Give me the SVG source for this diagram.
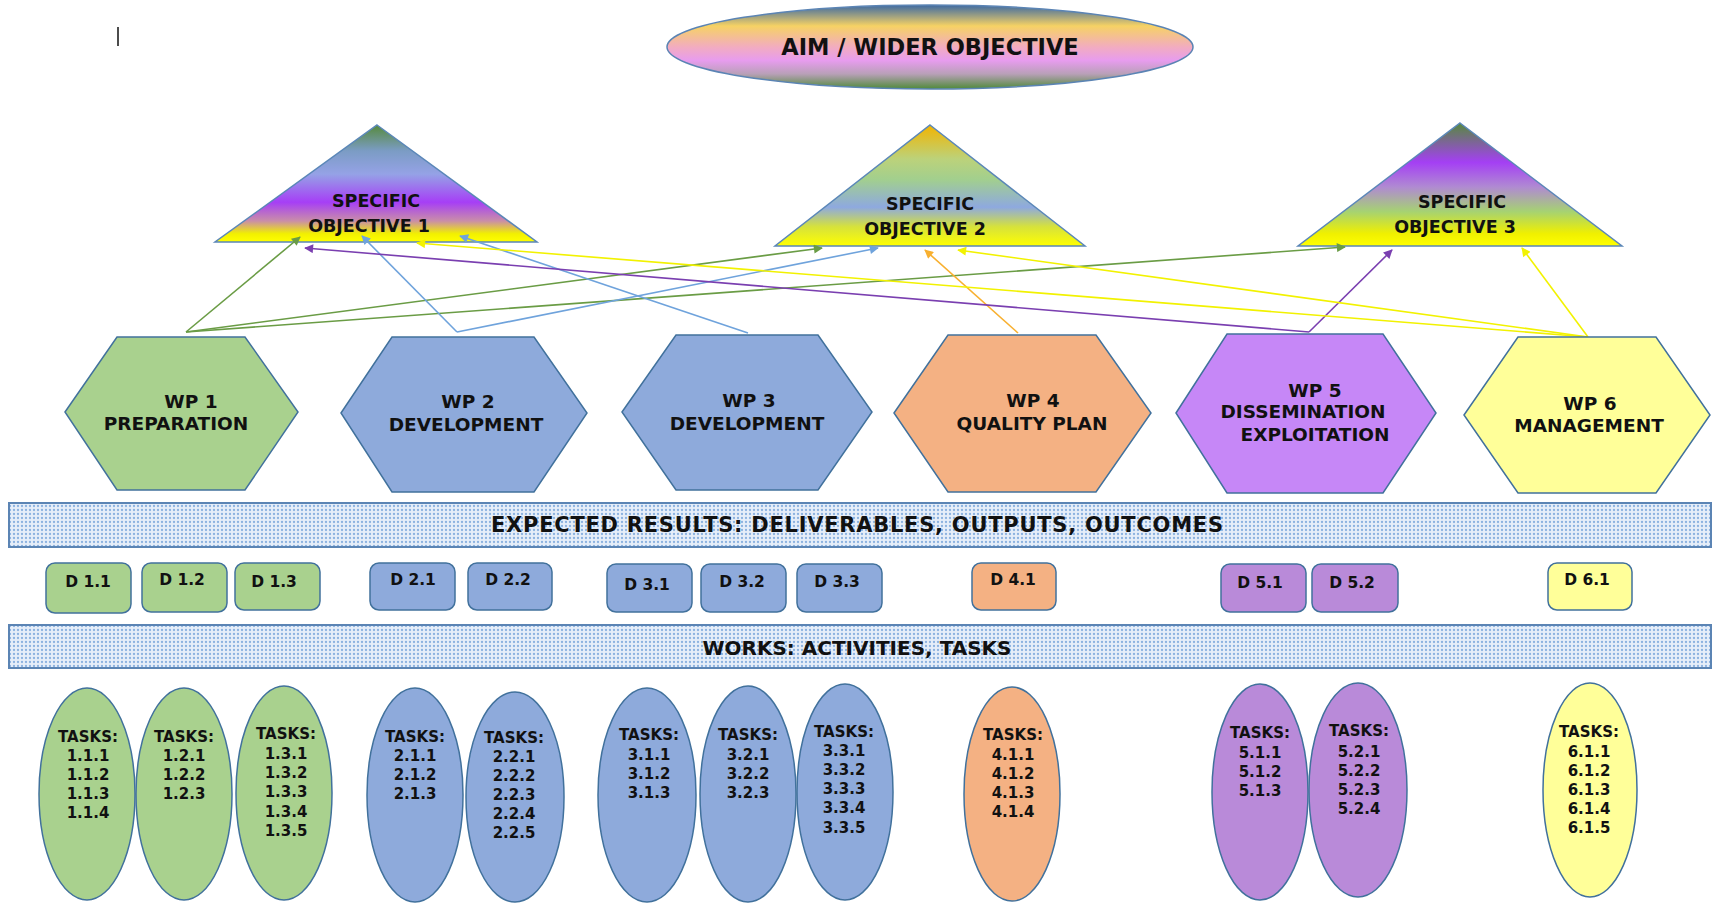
<svg xmlns="http://www.w3.org/2000/svg" width="1715" height="903" viewBox="0 0 1715 903">
<style>
  .lbl { font-family: "DejaVu Sans", "Liberation Sans", sans-serif; font-weight: bold; fill: #111; text-anchor: middle; }
  .wp { font-size: 18.5px; }
  .so { font-size: 17.5px; }
  .dl { font-size: 15.5px; }
  .tk { font-size: 15px; }
  .ban { font-size: 20px; }
  .hex { stroke: #41719c; stroke-width: 1.5; }
  .box { stroke: #41719c; stroke-width: 1.5; }
  .ell { stroke: #41719c; stroke-width: 1.5; }
  .tri { stroke: #5b87b8; stroke-width: 1.5; }
  .banner { fill: url(#dots); stroke: #5b84b4; stroke-width: 2; }
  .green { fill: #a9d18e; }
  .blue { fill: #8eaadb; }
  .orange { fill: #f4b183; }
  .purple { fill: #b98ad9; }
  .violet { fill: #c687f7; }
  .yellow { fill: #ffff99; }
  .c { fill: none; stroke-width: 1.6; }
  .cg { stroke: #6a9c45; }
  .cb { stroke: #6fa3dc; }
  .co { stroke: #f8b030; }
  .cp { stroke: #7a3fb0; }
  .cy { stroke: #f2f200; }
</style>
<defs>
  <linearGradient id="gAim" x1="0" y1="0" x2="0" y2="1">
    <stop offset="0" stop-color="#3e6aa2"/>
    <stop offset="0.25" stop-color="#f6d264"/>
    <stop offset="0.5" stop-color="#f2acc0"/>
    <stop offset="0.66" stop-color="#e79cee"/>
    <stop offset="0.82" stop-color="#b9a0b8"/>
    <stop offset="1" stop-color="#4f8a3a"/>
  </linearGradient>
  <linearGradient id="gSo1" x1="0" y1="0" x2="0" y2="1">
    <stop offset="0" stop-color="#568a3c"/>
    <stop offset="0.22" stop-color="#7b9cc4"/>
    <stop offset="0.42" stop-color="#95a2e6"/>
    <stop offset="0.66" stop-color="#a63ef6"/>
    <stop offset="0.82" stop-color="#c98ea8"/>
    <stop offset="0.93" stop-color="#f2f000"/>
    <stop offset="1" stop-color="#ffff00"/>
  </linearGradient>
  <linearGradient id="gSo2" x1="0" y1="0" x2="0" y2="1">
    <stop offset="0" stop-color="#f2b400"/>
    <stop offset="0.28" stop-color="#bcd27a"/>
    <stop offset="0.45" stop-color="#a2cf8e"/>
    <stop offset="0.68" stop-color="#8ea9df"/>
    <stop offset="0.84" stop-color="#d6e23c"/>
    <stop offset="1" stop-color="#ffff00"/>
  </linearGradient>
  <linearGradient id="gSo3" x1="0" y1="0" x2="0" y2="1">
    <stop offset="0" stop-color="#568a3c"/>
    <stop offset="0.32" stop-color="#a43ff4"/>
    <stop offset="0.52" stop-color="#b08ad2"/>
    <stop offset="0.72" stop-color="#a6d272"/>
    <stop offset="0.9" stop-color="#f0f000"/>
    <stop offset="1" stop-color="#ffff00"/>
  </linearGradient>
  <pattern id="dots" width="4" height="4" patternUnits="userSpaceOnUse">
    <rect width="4" height="4" fill="#e6eef9"/>
    <circle cx="2" cy="2" r="1.15" fill="#8cb2e0"/>
  </pattern>
  <marker id="aG" viewBox="0 0 10 10" refX="9" refY="5" markerWidth="10" markerHeight="9" markerUnits="userSpaceOnUse" orient="auto"><path d="M0,0 L10,5 L0,10 z" fill="#6a9c45"/></marker>
  <marker id="aB" viewBox="0 0 10 10" refX="9" refY="5" markerWidth="10" markerHeight="9" markerUnits="userSpaceOnUse" orient="auto"><path d="M0,0 L10,5 L0,10 z" fill="#6fa3dc"/></marker>
  <marker id="aO" viewBox="0 0 10 10" refX="9" refY="5" markerWidth="10" markerHeight="9" markerUnits="userSpaceOnUse" orient="auto"><path d="M0,0 L10,5 L0,10 z" fill="#f8b030"/></marker>
  <marker id="aP" viewBox="0 0 10 10" refX="9" refY="5" markerWidth="10" markerHeight="9" markerUnits="userSpaceOnUse" orient="auto"><path d="M0,0 L10,5 L0,10 z" fill="#7a3fb0"/></marker>
  <marker id="aY" viewBox="0 0 10 10" refX="9" refY="5" markerWidth="10" markerHeight="9" markerUnits="userSpaceOnUse" orient="auto"><path d="M0,0 L10,5 L0,10 z" fill="#f2f200"/></marker>
</defs>
<rect width="1715" height="903" fill="#ffffff"/>
<line x1="118" y1="27" x2="118" y2="46" stroke="#111" stroke-width="1.5"/>

<g id="aim">
  <ellipse cx="930" cy="47" rx="263" ry="42" fill="url(#gAim)" stroke="#5b84b4" stroke-width="1.5"/>
  <text class="lbl" x="930" y="55" font-size="22.5">AIM / WIDER OBJECTIVE</text>
</g>

<g id="so1">
  <polygon class="tri" points="377,125 537,242 215,242" fill="url(#gSo1)"/>
  <text class="lbl so" x="376" y="207">SPECIFIC</text>
  <text class="lbl so" x="369" y="232">OBJECTIVE 1</text>
</g>
<g id="so2">
  <polygon class="tri" points="930,125 1085,246 775,246" fill="url(#gSo2)"/>
  <text class="lbl so" x="930" y="210">SPECIFIC</text>
  <text class="lbl so" x="925" y="235">OBJECTIVE 2</text>
</g>
<g id="so3">
  <polygon class="tri" points="1460,123 1622,246 1298,246" fill="url(#gSo3)"/>
  <text class="lbl so" x="1462" y="208">SPECIFIC</text>
  <text class="lbl so" x="1455" y="233">OBJECTIVE 3</text>
</g>

<g id="connectors">
  <line class="c cg" x1="186" y1="332" x2="300" y2="237" marker-end="url(#aG)"/>
  <line class="c cg" x1="186" y1="332" x2="822" y2="248" marker-end="url(#aG)"/>
  <line class="c cg" x1="186" y1="332" x2="1345" y2="247" marker-end="url(#aG)"/>
  <line class="c cb" x1="457" y1="332" x2="362" y2="236" marker-end="url(#aB)"/>
  <line class="c cb" x1="457" y1="332" x2="878" y2="248" marker-end="url(#aB)"/>
  <line class="c cb" x1="748" y1="333" x2="460" y2="236" marker-end="url(#aB)"/>
  <line class="c co" x1="1018" y1="333" x2="925" y2="250" marker-end="url(#aO)"/>
  <line class="c cp" x1="1309" y1="332" x2="305" y2="248" marker-end="url(#aP)"/>
  <line class="c cp" x1="1309" y1="332" x2="1392" y2="250" marker-end="url(#aP)"/>
  <line class="c cy" x1="1588" y1="337" x2="417" y2="243" marker-end="url(#aY)"/>
  <line class="c cy" x1="1588" y1="337" x2="958" y2="250" marker-end="url(#aY)"/>
  <line class="c cy" x1="1588" y1="337" x2="1522" y2="248" marker-end="url(#aY)"/>
</g>

<g id="wp1">
  <polygon class="hex green" points="65,412 117,337 245,337 298,412 245,490 117,490"/>
  <text class="lbl wp" x="191" y="408">WP 1</text>
  <text class="lbl wp" x="176" y="430">PREPARATION</text>
</g>
<g id="wp2">
  <polygon class="hex blue" points="341,413 392,337 534,337 587,413 534,492 392,492"/>
  <text class="lbl wp" x="468" y="408">WP 2</text>
  <text class="lbl wp" x="466" y="431">DEVELOPMENT</text>
</g>
<g id="wp3">
  <polygon class="hex blue" points="622,412 676,335 818,335 872,412 818,490 676,490"/>
  <text class="lbl wp" x="749" y="407">WP 3</text>
  <text class="lbl wp" x="747" y="430">DEVELOPMENT</text>
</g>
<g id="wp4">
  <polygon class="hex orange" points="894,413 948,335 1096,335 1151,413 1096,492 948,492"/>
  <text class="lbl wp" x="1033" y="407">WP 4</text>
  <text class="lbl wp" x="1032" y="430">QUALITY PLAN</text>
</g>
<g id="wp5">
  <polygon class="hex violet" points="1176,413 1227,334 1383,334 1436,413 1383,493 1227,493"/>
  <text class="lbl wp" x="1315" y="397">WP 5</text>
  <text class="lbl wp" x="1303" y="418">DISSEMINATION</text>
  <text class="lbl wp" x="1315" y="441">EXPLOITATION</text>
</g>
<g id="wp6">
  <polygon class="hex yellow" points="1464,415 1518,337 1656,337 1710,415 1656,493 1518,493"/>
  <text class="lbl wp" x="1590" y="410">WP 6</text>
  <text class="lbl wp" x="1589" y="432">MANAGEMENT</text>
</g>

<g id="banner-results">
  <rect class="banner" x="9" y="503" width="1702" height="44"/>
  <text class="lbl" x="857" y="532" font-size="21" textLength="732">EXPECTED RESULTS: DELIVERABLES, OUTPUTS, OUTCOMES</text>
</g>

<g id="d11"><rect class="box green" x="46" y="563" width="85" height="50" rx="9"/><text class="lbl dl" x="88" y="587">D 1.1</text></g>
<g id="d12"><rect class="box green" x="142" y="563" width="85" height="49" rx="9"/><text class="lbl dl" x="182" y="585">D 1.2</text></g>
<g id="d13"><rect class="box green" x="235" y="563" width="85" height="47" rx="9"/><text class="lbl dl" x="274" y="587">D 1.3</text></g>
<g id="d21"><rect class="box blue" x="370" y="563" width="85" height="47" rx="9"/><text class="lbl dl" x="413" y="585">D 2.1</text></g>
<g id="d22"><rect class="box blue" x="468" y="563" width="84" height="47" rx="9"/><text class="lbl dl" x="508" y="585">D 2.2</text></g>
<g id="d31"><rect class="box blue" x="607" y="564" width="85" height="48" rx="9"/><text class="lbl dl" x="647" y="590">D 3.1</text></g>
<g id="d32"><rect class="box blue" x="701" y="564" width="85" height="48" rx="9"/><text class="lbl dl" x="742" y="587">D 3.2</text></g>
<g id="d33"><rect class="box blue" x="797" y="564" width="85" height="48" rx="9"/><text class="lbl dl" x="837" y="587">D 3.3</text></g>
<g id="d41"><rect class="box orange" x="972" y="563" width="84" height="47" rx="9"/><text class="lbl dl" x="1013" y="585">D 4.1</text></g>
<g id="d51"><rect class="box purple" x="1221" y="564" width="85" height="48" rx="9"/><text class="lbl dl" x="1260" y="588">D 5.1</text></g>
<g id="d52"><rect class="box purple" x="1312" y="564" width="86" height="48" rx="9"/><text class="lbl dl" x="1352" y="588">D 5.2</text></g>
<g id="d61"><rect class="box yellow" x="1548" y="563" width="84" height="47" rx="9"/><text class="lbl dl" x="1587" y="585">D 6.1</text></g>

<g id="banner-works">
  <rect class="banner" x="9" y="625" width="1702" height="43"/>
  <text class="lbl ban" x="857" y="655">WORKS: ACTIVITIES, TASKS</text>
</g>

<g id="t11"><ellipse class="ell green" cx="87" cy="794" rx="48" ry="106"/>
  <text class="lbl tk" x="88" y="742">TASKS:<tspan x="88" y="761">1.1.1</tspan><tspan x="88" y="780">1.1.2</tspan><tspan x="88" y="799">1.1.3</tspan><tspan x="88" y="818">1.1.4</tspan></text></g>
<g id="t12"><ellipse class="ell green" cx="184" cy="794" rx="48" ry="106"/>
  <text class="lbl tk" x="184" y="742">TASKS:<tspan x="184" y="761">1.2.1</tspan><tspan x="184" y="780">1.2.2</tspan><tspan x="184" y="799">1.2.3</tspan></text></g>
<g id="t13"><ellipse class="ell green" cx="284" cy="793" rx="48" ry="107"/>
  <text class="lbl tk" x="286" y="739">TASKS:<tspan x="286" y="759">1.3.1</tspan><tspan x="286" y="778">1.3.2</tspan><tspan x="286" y="797">1.3.3</tspan><tspan x="286" y="817">1.3.4</tspan><tspan x="286" y="836">1.3.5</tspan></text></g>
<g id="t21"><ellipse class="ell blue" cx="415" cy="795" rx="48" ry="107"/>
  <text class="lbl tk" x="415" y="742">TASKS:<tspan x="415" y="761">2.1.1</tspan><tspan x="415" y="780">2.1.2</tspan><tspan x="415" y="799">2.1.3</tspan></text></g>
<g id="t22"><ellipse class="ell blue" cx="515" cy="797" rx="49" ry="105"/>
  <text class="lbl tk" x="514" y="743">TASKS:<tspan x="514" y="762">2.2.1</tspan><tspan x="514" y="781">2.2.2</tspan><tspan x="514" y="800">2.2.3</tspan><tspan x="514" y="819">2.2.4</tspan><tspan x="514" y="838">2.2.5</tspan></text></g>
<g id="t31"><ellipse class="ell blue" cx="647" cy="795" rx="49" ry="107"/>
  <text class="lbl tk" x="649" y="740">TASKS:<tspan x="649" y="760">3.1.1</tspan><tspan x="649" y="779">3.1.2</tspan><tspan x="649" y="798">3.1.3</tspan></text></g>
<g id="t32"><ellipse class="ell blue" cx="748" cy="794" rx="48" ry="108"/>
  <text class="lbl tk" x="748" y="740">TASKS:<tspan x="748" y="760">3.2.1</tspan><tspan x="748" y="779">3.2.2</tspan><tspan x="748" y="798">3.2.3</tspan></text></g>
<g id="t33"><ellipse class="ell blue" cx="845" cy="792" rx="48" ry="108"/>
  <text class="lbl tk" x="844" y="737">TASKS:<tspan x="844" y="756">3.3.1</tspan><tspan x="844" y="775">3.3.2</tspan><tspan x="844" y="794">3.3.3</tspan><tspan x="844" y="813">3.3.4</tspan><tspan x="844" y="833">3.3.5</tspan></text></g>
<g id="t41"><ellipse class="ell orange" cx="1012" cy="794" rx="48" ry="107"/>
  <text class="lbl tk" x="1013" y="740">TASKS:<tspan x="1013" y="760">4.1.1</tspan><tspan x="1013" y="779">4.1.2</tspan><tspan x="1013" y="798">4.1.3</tspan><tspan x="1013" y="817">4.1.4</tspan></text></g>
<g id="t51"><ellipse class="ell purple" cx="1260" cy="792" rx="48" ry="108"/>
  <text class="lbl tk" x="1260" y="738">TASKS:<tspan x="1260" y="758">5.1.1</tspan><tspan x="1260" y="777">5.1.2</tspan><tspan x="1260" y="796">5.1.3</tspan></text></g>
<g id="t52"><ellipse class="ell purple" cx="1358" cy="790" rx="49" ry="107"/>
  <text class="lbl tk" x="1359" y="736">TASKS:<tspan x="1359" y="757">5.2.1</tspan><tspan x="1359" y="776">5.2.2</tspan><tspan x="1359" y="795">5.2.3</tspan><tspan x="1359" y="814">5.2.4</tspan></text></g>
<g id="t61"><ellipse class="ell yellow" cx="1590" cy="790" rx="47" ry="107"/>
  <text class="lbl tk" x="1589" y="737">TASKS:<tspan x="1589" y="757">6.1.1</tspan><tspan x="1589" y="776">6.1.2</tspan><tspan x="1589" y="795">6.1.3</tspan><tspan x="1589" y="814">6.1.4</tspan><tspan x="1589" y="833">6.1.5</tspan></text></g>
</svg>
